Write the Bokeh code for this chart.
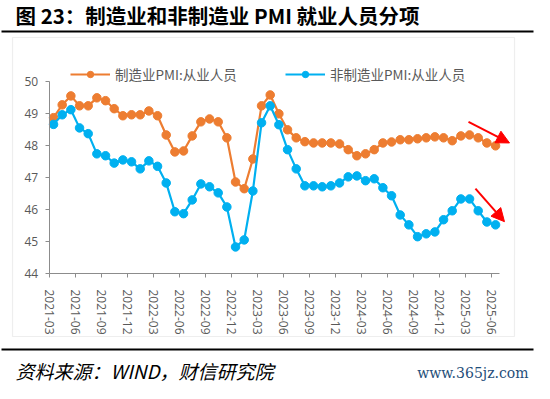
from bokeh.plotting import figure
from bokeh.models import (Range1d, FixedTicker, Label, BoxAnnotation, Legend,
                          LegendItem, Arrow, NormalHead, LinearAxis)
from bokeh.embed import file_html
from bokeh.resources import INLINE

months = ["2021-03", "2021-04", "2021-05", "2021-06", "2021-07", "2021-08", "2021-09",
          "2021-10", "2021-11", "2021-12", "2022-01", "2022-02", "2022-03", "2022-04",
          "2022-05", "2022-06", "2022-07", "2022-08", "2022-09", "2022-10", "2022-11",
          "2022-12", "2023-01", "2023-02", "2023-03", "2023-04", "2023-05", "2023-06",
          "2023-07", "2023-08", "2023-09", "2023-10", "2023-11", "2023-12", "2024-01",
          "2024-02", "2024-03", "2024-04", "2024-05", "2024-06", "2024-07", "2024-08",
          "2024-09", "2024-10", "2024-11", "2024-12", "2025-01", "2025-02", "2025-03",
          "2025-04", "2025-05", "2025-06"]

mfg = [48.87, 49.27, 49.55, 49.24, 49.24, 49.49, 49.40, 49.15, 48.93, 48.96, 48.96, 49.08,
       48.93, 48.33, 47.80, 47.83, 48.30, 48.74, 48.83, 48.74, 48.24, 46.86, 46.65, 47.58,
       49.24, 49.58, 48.99, 48.49, 48.24, 48.12, 48.08, 48.08, 48.08, 48.05, 47.87, 47.68,
       47.74, 47.87, 48.08, 48.11, 48.18, 48.18, 48.21, 48.24, 48.27, 48.24, 48.15, 48.30,
       48.33, 48.24, 48.08, 47.99]

nonmfg = [48.66, 48.96, 49.12, 48.55, 48.37, 47.74, 47.68, 47.45, 47.55, 47.49, 47.27, 47.52,
          47.35, 46.83, 45.93, 45.87, 46.30, 46.80, 46.71, 46.52, 46.08, 44.83, 45.05, 46.58,
          48.71, 49.24, 48.65, 47.87, 47.27, 46.74, 46.74, 46.71, 46.74, 46.83, 47.02, 47.05,
          46.90, 46.96, 46.68, 46.43, 45.83, 45.52, 45.15, 45.24, 45.30, 45.68, 45.96, 46.33,
          46.33, 45.96, 45.61, 45.52]

tick_labels = ["2021-03", "2021-06", "2021-09", "2021-12", "2022-03", "2022-06", "2022-09",
               "2022-12", "2023-03", "2023-06", "2023-09", "2023-12", "2024-03", "2024-06",
               "2024-09", "2024-12", "2025-03", "2025-06"]
y_ticks = [44, 45, 46, 47, 48, 49, 50]

series_names = ["制造业PMI:从业人员", "非制造业PMI:从业人员"]
ORANGE = "#ED7D31"
BLUE = "#00B0F0"

# category centres (Excel style: points between tick marks)
xs = [months.index(m) + 0.5 for m in months]
tick_pos = [months.index(t) for t in tick_labels]

W, H = 534, 383
# plot area geometry in canvas pixels
X0_PX, PX_PER_MONTH = 48.7, 8.667
Y44_PX, PX_PER_UNIT = 273.0, 32.0

p = figure(width=W, height=H,
           x_range=Range1d(-X0_PX / PX_PER_MONTH, (W - X0_PX) / PX_PER_MONTH),
           y_range=Range1d(44 - (H - Y44_PX) / PX_PER_UNIT, 44 + Y44_PX / PX_PER_UNIT),
           output_backend="svg", toolbar_location=None,
           x_axis_location=None, y_axis_location=None,
           min_border_left=0, min_border_right=0, min_border_top=0, min_border_bottom=0)
p.outline_line_color = None
p.xgrid.visible = False
p.ygrid.visible = False
p.background_fill_color = "white"
p.border_fill_color = "white"

AX = "#8C8C8C"
yax = LinearAxis(fixed_location=0, ticker=FixedTicker(ticks=y_ticks), bounds=(44, 50))
xax = LinearAxis(fixed_location=44, ticker=FixedTicker(ticks=tick_pos),
                 bounds=(0, len(months)))
for ax in (xax, yax):
    ax.axis_line_color = AX
    ax.major_tick_line_color = AX
    ax.minor_tick_line_color = None
    ax.major_tick_in = 0
    ax.major_tick_out = 4
    ax.major_label_text_color = "#595959"
    ax.major_label_text_font = "Open Sans"
    ax.major_label_text_font_size = "12px"
yax.major_label_standoff = 7
xax.major_label_overrides = {pos: lab for pos, lab in zip(tick_pos, tick_labels)}
xax.major_label_orientation = "vertical"
xax.major_label_standoff = 12
p.add_layout(yax, "left")
p.add_layout(xax, "below")

l1 = p.line(xs, mfg, line_color=ORANGE, line_width=2.2)
s1 = p.scatter(xs, mfg, size=8.5, fill_color=ORANGE, line_color=ORANGE)
l2 = p.line(xs, nonmfg, line_color=BLUE, line_width=2.2)
s2 = p.scatter(xs, nonmfg, size=8.5, fill_color=BLUE, line_color=BLUE)

for name, rends, loc in [(series_names[0], [l1, s1], (70, 299)),
                         (series_names[1], [l2, s2], (285, 299))]:
    leg = Legend(items=[LegendItem(label=name, renderers=rends)], location=loc,
                 padding=0, margin=0, border_line_color=None, background_fill_alpha=0,
                 glyph_width=40, glyph_height=16, label_height=16, label_standoff=5,
                 label_text_font="Noto Sans CJK SC", label_text_font_size="13.5px",
                 label_text_color="#595959")
    p.add_layout(leg)

# red trend arrows
arrows = [(48.38, 48.74, 53.11, 48.08), (49.18, 46.65, 52.53, 45.62)]
for xa, ya, xb, yb in arrows:
    p.add_layout(Arrow(end=NormalHead(size=13, fill_color="#FF0000", line_color="#FF0000"),
                       x_start=xa, y_start=ya, x_end=xb, y_end=yb,
                       line_color="#FF0000", line_width=2))

# page decorations in canvas units
def cbox(left, right, top, bottom, **kw):
    return BoxAnnotation(left=left, right=right, top=top, bottom=bottom,
                         left_units="canvas", right_units="canvas",
                         top_units="canvas", bottom_units="canvas", **kw)

p.add_layout(cbox(12, 514, 37, 336, fill_alpha=0, line_color="#C8C8C8", line_width=1.2))
p.add_layout(cbox(1, 533, 30, 32, fill_color="black", fill_alpha=1, line_color=None))
p.add_layout(cbox(1, 533, 348, 350, fill_color="black", fill_alpha=1, line_color=None))
p.add_layout(Label(x=15, y=14, x_units="canvas", y_units="canvas",
                   text="图 23：制造业和非制造业 PMI 就业人员分项",
                   text_font="Noto Sans CJK SC", text_font_style="bold",
                   text_font_size="20.5px", text_baseline="middle", text_color="black"))
p.add_layout(Label(x=15, y=370, x_units="canvas", y_units="canvas",
                   text="资料来源：WIND，财信研究院",
                   text_font="Noto Sans CJK SC", text_font_style="italic",
                   text_font_size="19px", text_baseline="middle", text_color="black"))
p.add_layout(Label(x=528, y=372, x_units="canvas", y_units="canvas",
                   text="www.365jz.com", text_font="DejaVu Serif",
                   text_font_size="14px", text_baseline="middle", text_align="right",
                   text_color="#1F4E79"))

open("out.html", "w").write(file_html(p, INLINE))
